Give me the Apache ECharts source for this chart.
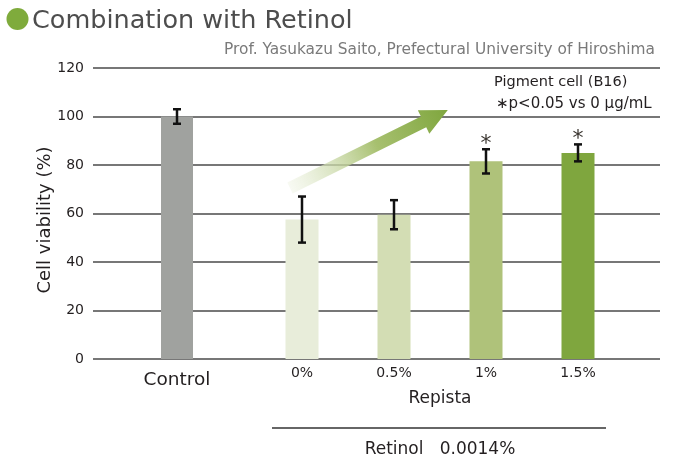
<!DOCTYPE html>
<html>
<head>
<meta charset="utf-8">
<script src="https://cdn.jsdelivr.net/npm/echarts@6/dist/echarts.min.js"></script>
<style>
  html, body { margin: 0; padding: 0; background: #fff; }
  #chart { width: 677px; height: 469px; }
</style>
</head>
<body>
<div id="chart"></div>
<script>
// data
const controlLabels = ['Control']
const controlValues = [100]
const controlErrors = [3]

const repistaLabels = ['0%', '0.5%', '1%', '1.5%']
const repistaValues = [57.5, 59.5, 81.5, 85]
const repistaErrors = [9.5, 6, 5, 3.5]
const repistaSignificant = [false, false, true, true]

const yTicks = [0, 20, 40, 60, 80, 100, 120]

const controlColors = ['#a0a29f']
const repistaColors = ['#e8edda', '#d3ddb4', '#afc27a', '#7fa63e']

const FONT = '"DejaVu Sans", sans-serif'
const TEXT = '#231f20'

const chart = echarts.init(document.getElementById('chart'))

/** error bar with caps, plus an asterisk when significant */
function renderError(params, api) {
  const idx = api.value(0)
  const v = api.value(1)
  const e = api.value(2)
  const sig = api.value(3)
  const top = api.coord([idx, v + e])
  const bottom = api.coord([idx, v - e])
  const hw = 4
  const style = { stroke: '#111', lineWidth: 2.5 }
  const children = [
    { type: 'line', shape: { x1: top[0], y1: top[1], x2: bottom[0], y2: bottom[1] }, style },
    { type: 'line', shape: { x1: top[0] - hw, y1: top[1], x2: top[0] + hw, y2: top[1] }, style },
    { type: 'line', shape: { x1: bottom[0] - hw, y1: bottom[1], x2: bottom[0] + hw, y2: bottom[1] }, style }
  ]
  if (sig) {
    children.push({
      type: 'text',
      style: {
        text: '*', x: top[0], y: top[1] + 6, align: 'center', verticalAlign: 'bottom',
        fontSize: 22, fontFamily: FONT, fill: '#3a3530'
      }
    })
  }
  return { type: 'group', children }
}

const gridTop = 68
const gridBottom = 110

const option = {
  animation: false,
  title: [
    {
      text: 'Combination with Retinol',
      left: 27, top: 3,
      textStyle: { fontSize: 25.5, fontWeight: 'normal', color: '#4d4d4d', fontFamily: FONT }
    },
    {
      text: 'Prof. Yasukazu Saito, Prefectural University of Hiroshima',
      right: 17, top: 37,
      textStyle: { fontSize: 15.4, fontWeight: 'normal', color: '#7a7a7a', fontFamily: FONT }
    }
  ],
  grid: [
    { left: 93, right: 17, top: gridTop, bottom: gridBottom },
    { left: 93, width: 168, top: gridTop, bottom: gridBottom },
    { left: 256, width: 368, top: gridTop, bottom: gridBottom }
  ],
  xAxis: [
    { gridIndex: 0, type: 'value', show: false, min: 0, max: 1 },
    {
      gridIndex: 1, type: 'category', data: controlLabels,
      axisLine: { show: false }, axisTick: { show: false },
      axisLabel: { fontSize: 18.5, color: TEXT, margin: 12, fontFamily: FONT }
    },
    {
      gridIndex: 2, type: 'category', data: repistaLabels,
      axisLine: { show: false }, axisTick: { show: false },
      axisLabel: { fontSize: 14, color: TEXT, margin: 7, fontFamily: FONT },
      name: 'Repista', nameLocation: 'middle', nameGap: 31,
      nameTextStyle: { fontSize: 17, color: TEXT, fontFamily: FONT }
    }
  ],
  yAxis: [
    {
      gridIndex: 0, type: 'value', min: yTicks[0], max: yTicks[yTicks.length - 1], interval: 20,
      axisLine: { show: false }, axisTick: { show: false },
      axisLabel: { fontSize: 14, color: TEXT, margin: 9, fontFamily: FONT },
      splitLine: { show: true, lineStyle: { color: '#4a4a4a', width: 1.5 } }
    },
    { gridIndex: 1, type: 'value', min: 0, max: 120, show: false },
    { gridIndex: 2, type: 'value', min: 0, max: 120, show: false }
  ],
  graphic: [
    { type: 'circle', shape: { cx: 17.5, cy: 19, r: 11 }, style: { fill: '#7fab3c' } },
    {
      type: 'text', x: 45, y: 220, rotation: Math.PI / 2,
      style: { text: 'Cell viability (%)', fontSize: 18, fill: TEXT, fontFamily: FONT, align: 'center', verticalAlign: 'middle' }
    },
    {
      type: 'polygon',
      x: 290, y: 188,
      rotation: 26.3 * Math.PI / 180,
      shape: {
        points: [[0, -6], [149, -6], [149, -13], [176, 0], [149, 13], [149, 6], [0, 6]]
      },
      style: {
        fill: new echarts.graphic.LinearGradient(0, 0, 1, 0, [
          { offset: 0, color: 'rgba(240,244,230,0.5)' },
          { offset: 0.55, color: '#a7c06f' },
          { offset: 1, color: '#7fa63e' }
        ])
      },
      z: 5
    },
    {
      type: 'text', left: 494, top: 75,
      style: { text: 'Pigment cell (B16)', fontSize: 14.5, fill: TEXT, fontFamily: FONT }
    },
    {
      type: 'text', left: 496, top: 97,
      style: { text: '\u2217p<0.05 vs 0 \u03bcg/mL', fontSize: 15, fill: TEXT, fontFamily: FONT }
    },
    {
      type: 'line', shape: { x1: 272, y1: 428, x2: 606, y2: 428 },
      style: { stroke: '#333', lineWidth: 1.5 }
    },
    {
      type: 'text', x: 440, y: 450,
      style: { text: 'Retinol   0.0014%', fontSize: 17, fill: TEXT, fontFamily: FONT, align: 'center', verticalAlign: 'middle' }
    }
  ],
  series: [
    {
      type: 'bar', xAxisIndex: 1, yAxisIndex: 1, barWidth: 32,
      data: controlValues.map((v, i) => ({ value: v, itemStyle: { color: controlColors[i] } }))
    },
    {
      type: 'bar', xAxisIndex: 2, yAxisIndex: 2, barWidth: 33,
      data: repistaValues.map((v, i) => ({ value: v, itemStyle: { color: repistaColors[i] } }))
    },
    {
      type: 'custom', xAxisIndex: 1, yAxisIndex: 1, z: 10,
      renderItem: renderError,
      data: controlValues.map((v, i) => [i, v, controlErrors[i], 0])
    },
    {
      type: 'custom', xAxisIndex: 2, yAxisIndex: 2, z: 10,
      renderItem: renderError,
      data: repistaValues.map((v, i) => [i, v, repistaErrors[i], repistaSignificant[i] ? 1 : 0])
    }
  ]
}

chart.setOption(option)
</script>
</body>
</html>
